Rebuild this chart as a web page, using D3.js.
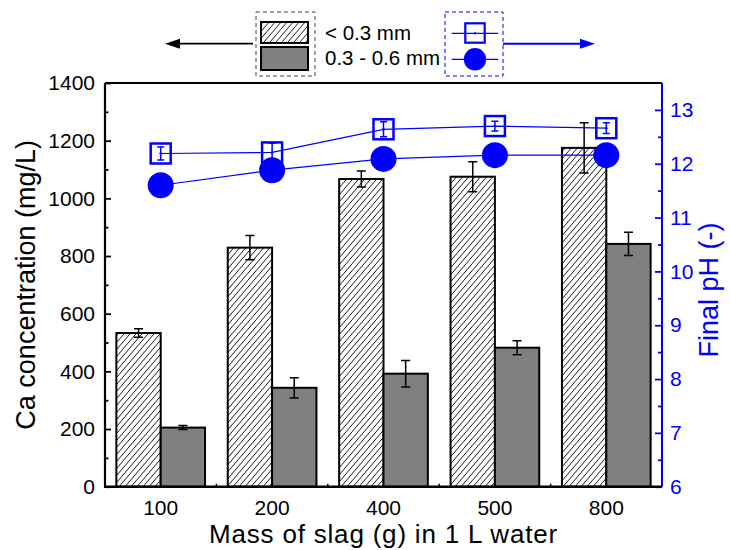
<!DOCTYPE html>
<html lang="en">
<head>
<meta charset="UTF-8">
<title>Ca concentration and final pH vs mass of slag</title>
<script src="https://cdn.jsdelivr.net/npm/d3@7"></script>
<style>
    body { margin: 0; background: #fff; }
    svg { font-family: "Liberation Sans", Arial, sans-serif; }
    .tick text { font-size: 21px; }
</style>
</head>
<body>
<div id="chart"></div>
<script>
// data
const categories = ["100", "200", "400", "500", "800"];
const caFine = [533, 829, 1067, 1075, 1175];        // < 0.3 mm, mg/L
const caFineErr = [15, 42, 28, 52, 87];
const caCoarse = [205, 343, 392, 482, 842];         // 0.3 - 0.6 mm, mg/L
const caCoarseErr = [7, 35, 46, 24, 40];
const phFine = [12.19, 12.21, 12.64, 12.70, 12.66];
const phFineErr = [0.12, 0.17, 0.14, 0.09, 0.10];
const phCoarse = [11.60, 11.88, 12.09, 12.16, 12.16];
const caTicks = [0, 200, 400, 600, 800, 1000, 1200, 1400];
const caMinor = [100, 300, 500, 700, 900, 1100, 1300];
const phTicks = [6, 7, 8, 9, 10, 11, 12, 13];
const phMinor = [6.5, 7.5, 8.5, 9.5, 10.5, 11.5, 12.5];
const legendLabels = ["< 0.3 mm", "0.3 - 0.6 mm"];

const blue = "#0000ff";
const gray = "#808080";

const svgW = 730, svgH = 550;
const margin = { top: 83, right: 68, bottom: 63.3, left: 105 };
const width = svgW - margin.left - margin.right;
const height = svgH - margin.top - margin.bottom;

const svg = d3.select("#chart").append("svg")
    .attr("width", svgW)
    .attr("height", svgH);

// hatch for the fine fraction
svg.append("defs").append("pattern")
    .attr("id", "hatch")
    .attr("patternUnits", "userSpaceOnUse")
    .attr("width", 6)
    .attr("height", 7)
    .append("path")
    .attr("d", "M-3,10.5L9,-3.5M-9,10.5L3,-3.5M3,10.5L15,-3.5")
    .attr("stroke", "#000")
    .attr("stroke-width", 0.9);

const g = svg.append("g").attr("transform", `translate(${margin.left},${margin.top})`);

const x = d3.scaleBand().domain(categories).range([0, width]);
const yCa = d3.scaleLinear().domain([0, 1400]).range([height, 0]);
const yPh = d3.scaleLinear().domain([6, 13.5]).range([height, 0]);
const barW = x.bandwidth() * 0.398;
const cx = c => x(c) + x.bandwidth() / 2;

// bars
const groups = g.selectAll(".grp")
    .data(categories)
    .enter().append("g")
    .attr("class", "grp");

groups.append("rect")
    .attr("x", d => cx(d) - barW)
    .attr("y", (d, i) => yCa(caFine[i]))
    .attr("width", barW)
    .attr("height", (d, i) => height - yCa(caFine[i]))
    .attr("fill", "url(#hatch)")
    .attr("stroke", "#000")
    .attr("stroke-width", 2);

groups.append("rect")
    .attr("x", d => cx(d))
    .attr("y", (d, i) => yCa(caCoarse[i]))
    .attr("width", barW)
    .attr("height", (d, i) => height - yCa(caCoarse[i]))
    .attr("fill", gray)
    .attr("stroke", "#000")
    .attr("stroke-width", 2);

function errorBar(sel, xc, y0, y1, cap, color, w) {
    sel.append("path")
        .attr("d", `M${xc},${y0}V${y1}M${xc - cap},${y0}H${xc + cap}M${xc - cap},${y1}H${xc + cap}`)
        .attr("fill", "none")
        .attr("stroke", color)
        .attr("stroke-width", w);
}

categories.forEach((c, i) => {
    errorBar(g, cx(c) - barW / 2, yCa(caFine[i] + caFineErr[i]), yCa(caFine[i] - caFineErr[i]), 4.5, "#000", 1.5);
    errorBar(g, cx(c) + barW / 2, yCa(caCoarse[i] + caCoarseErr[i]), yCa(caCoarse[i] - caCoarseErr[i]), 4.5, "#000", 1.5);
});

// axes
g.append("g")
    .attr("class", "axis")
    .call(d3.axisLeft(yCa).tickValues(caTicks).tickFormat(d3.format("d"))
        .tickSizeInner(-6).tickSizeOuter(0).tickPadding(10));
g.append("g")
    .attr("class", "axis")
    .call(d3.axisLeft(yCa).tickValues(caMinor).tickSize(-3.5).tickFormat(""));

g.append("g")
    .attr("class", "axis")
    .attr("transform", `translate(${width},0)`)
    .attr("color", blue)
    .call(d3.axisRight(yPh).tickValues(phTicks).tickSizeInner(-7).tickSizeOuter(0).tickPadding(8));
g.append("g")
    .attr("class", "axis")
    .attr("transform", `translate(${width},0)`)
    .attr("color", blue)
    .call(d3.axisRight(yPh).tickValues(phMinor).tickSize(-4).tickFormat(""));

g.append("g")
    .attr("class", "axis")
    .attr("transform", `translate(0,${height})`)
    .call(d3.axisBottom(x).tickSize(0).tickPadding(13));

g.selectAll(".axis").attr("font-size", null).attr("font-family", null);
g.selectAll(".domain").remove();
g.selectAll(".tick line").attr("stroke-width", 1.8);

// small ticks between groups
g.selectAll(".sep")
    .data(categories.slice(1))
    .enter().append("line")
    .attr("x1", d => x(d)).attr("x2", d => x(d))
    .attr("y1", height).attr("y2", height - 3)
    .attr("stroke", "#000")
    .attr("stroke-width", 1.5);

// frame
g.append("line").attr("x1", 0).attr("x2", width).attr("y1", 0).attr("y2", 0)
    .attr("stroke", "#000").attr("stroke-width", 2);
g.append("line").attr("x1", 0).attr("x2", 0).attr("y1", 0).attr("y2", height)
    .attr("stroke", "#000").attr("stroke-width", 2.2);
g.append("line").attr("x1", width).attr("x2", width).attr("y1", 0).attr("y2", height)
    .attr("stroke", blue).attr("stroke-width", 2);
g.append("line").attr("x1", -1).attr("x2", width).attr("y1", height).attr("y2", height)
    .attr("stroke", "#000").attr("stroke-width", 2.5);

// pH lines
const phLine = arr => d3.line().x((d, i) => cx(categories[i])).y(d => yPh(d))(arr);
g.append("path").attr("d", phLine(phFine))
    .attr("fill", "none").attr("stroke", blue).attr("stroke-width", 1.2);
g.append("path").attr("d", phLine(phCoarse))
    .attr("fill", "none").attr("stroke", blue).attr("stroke-width", 1.2);

// open squares with error bars
categories.forEach((c, i) => {
    const px = cx(c), py = yPh(phFine[i]);
    g.append("rect")
        .attr("x", px - 10).attr("y", py - 10)
        .attr("width", 20).attr("height", 20)
        .attr("fill", "none").attr("stroke", blue).attr("stroke-width", 2.5);
    errorBar(g, px, yPh(phFine[i] + phFineErr[i]), yPh(phFine[i] - phFineErr[i]), 3.5, blue, 1.5);
    g.append("circle").attr("cx", px).attr("cy", py).attr("r", 1.3).attr("fill", blue);
});

// filled circles
g.selectAll(".dot")
    .data(phCoarse)
    .enter().append("circle")
    .attr("class", "dot")
    .attr("cx", (d, i) => cx(categories[i]))
    .attr("cy", d => yPh(d))
    .attr("r", 13)
    .attr("fill", blue);

// axis titles
svg.append("text")
    .attr("transform", `translate(35,${margin.top + height / 2}) rotate(-90)`)
    .attr("text-anchor", "middle")
    .attr("font-size", 27)
    .text("Ca concentration (mg/L)");

svg.append("text")
    .attr("transform", `translate(718,290) rotate(-90)`)
    .attr("text-anchor", "middle")
    .attr("font-size", 27)
    .attr("fill", blue)
    .text("Final pH (-)");

svg.append("text")
    .attr("x", margin.left + width / 2)
    .attr("y", 543)
    .attr("text-anchor", "middle")
    .attr("font-size", 26)
    .attr("letter-spacing", 0.8)
    .text("Mass of slag (g) in 1 L water");

// legend
const lg = svg.append("g");
lg.append("rect").attr("x", 256).attr("y", 12).attr("width", 59).attr("height", 64)
    .attr("fill", "none").attr("stroke", "#444").attr("stroke-dasharray", "4,3");
lg.append("rect").attr("x", 261).attr("y", 22).attr("width", 47).attr("height", 21)
    .attr("fill", "url(#hatch)").attr("stroke", "#000").attr("stroke-width", 2);
lg.append("rect").attr("x", 261).attr("y", 47).attr("width", 47).attr("height", 23)
    .attr("fill", gray).attr("stroke", "#000").attr("stroke-width", 2);
lg.selectAll(".lt")
    .data(legendLabels)
    .enter().append("text")
    .attr("x", 325)
    .attr("y", (d, i) => 39.5 + i * 25)
    .attr("font-size", 20.5)
    .text(d => d);

// left arrow
lg.append("line").attr("x1", 253).attr("x2", 176).attr("y1", 43.7).attr("y2", 43.7)
    .attr("stroke", "#000").attr("stroke-width", 1.8);
lg.append("path").attr("d", "M165,43.7L180,38.7L180,48.7Z").attr("fill", "#000");

lg.append("rect").attr("x", 445).attr("y", 12).attr("width", 58).attr("height", 64)
    .attr("fill", "none").attr("stroke", blue).attr("stroke-dasharray", "4,3");
lg.append("line").attr("x1", 451.7).attr("x2", 498.3).attr("y1", 33.3).attr("y2", 33.3)
    .attr("stroke", blue).attr("stroke-width", 1.2);
lg.append("rect").attr("x", 465.3).attr("y", 23.3).attr("width", 19.4).attr("height", 19.4)
    .attr("fill", "none").attr("stroke", blue).attr("stroke-width", 2.2);
lg.append("circle").attr("cx", 475).attr("cy", 33.3).attr("r", 1.2).attr("fill", blue);
lg.append("line").attr("x1", 451.7).attr("x2", 498.3).attr("y1", 59.3).attr("y2", 59.3)
    .attr("stroke", blue).attr("stroke-width", 1.2);
lg.append("circle").attr("cx", 475).attr("cy", 59.3).attr("r", 11.2).attr("fill", blue);

// right arrow
lg.append("line").attr("x1", 503).attr("x2", 584).attr("y1", 43.7).attr("y2", 43.7)
    .attr("stroke", blue).attr("stroke-width", 2);
lg.append("path").attr("d", "M595,43.7L580,38.7L580,48.7Z").attr("fill", blue);
</script>
</body>
</html>
